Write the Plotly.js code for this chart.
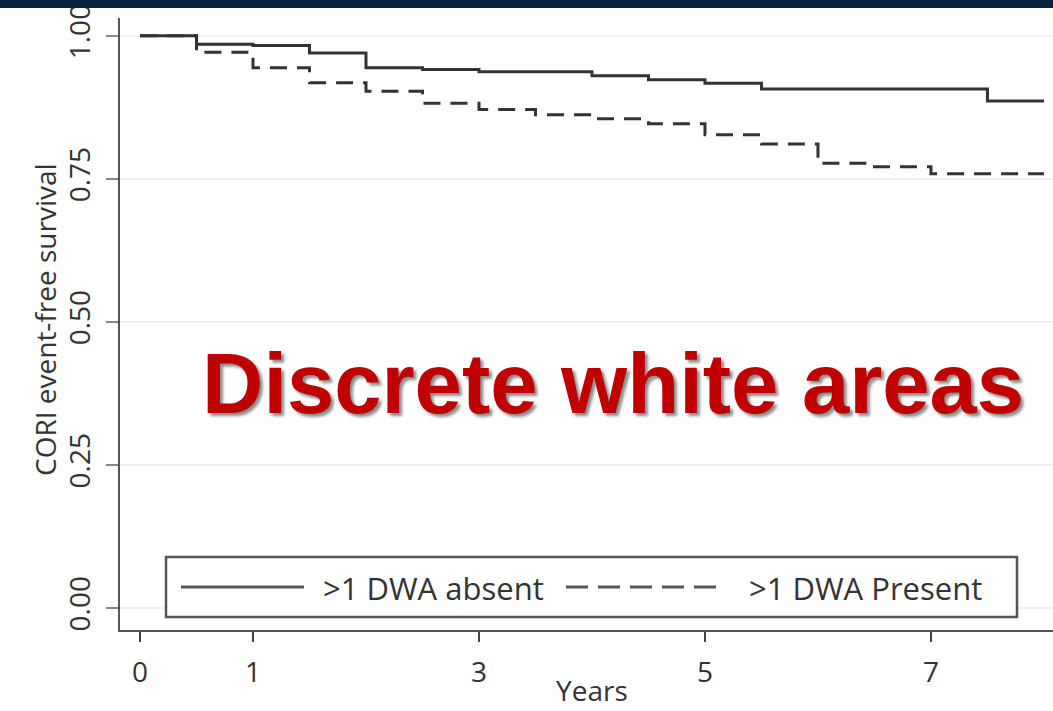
<!DOCTYPE html>
<html>
<head>
<meta charset="utf-8">
<script src="https://cdn.plot.ly/plotly-3.0.1.min.js"></script>
<style>
  html, body { margin: 0; padding: 0; background: #fff; }
  #chart { width: 1053px; height: 711px; }
  #topbar { position: absolute; left: 0; top: 0; width: 1053px; height: 8px; background: #062440; z-index: 10; }
</style>
</head>
<body>
<div id="topbar"></div>
<div id="chart"></div>
<script>
// Kaplan-Meier step data (years, survival)
const absentTimes   = [0, 0.5, 1.0, 1.5, 2.0, 2.5, 3.0, 4.0, 4.5, 5.0, 5.5, 7.5, 8.0];
const absentSurv    = [1.000, 0.985, 0.983, 0.970, 0.944, 0.941, 0.937, 0.930, 0.923, 0.917, 0.907, 0.886, 0.886];
const presentTimes  = [0, 0.5, 1.0, 1.5, 2.0, 2.5, 3.0, 3.5, 4.0, 4.5, 5.0, 5.5, 6.0, 6.5, 7.0, 8.0];
const presentSurv   = [1.000, 0.971, 0.944, 0.918, 0.903, 0.882, 0.871, 0.862, 0.855, 0.846, 0.827, 0.811, 0.777, 0.771, 0.759, 0.759];
const seriesNames   = ['>1 DWA absent', '>1 DWA Present'];
const xTickVals     = [0, 1, 3, 5, 7];
const yTickVals     = [0, 0.25, 0.5, 0.75, 1.0];
const yTickText     = ['0.00', '0.25', '0.50', '0.75', '1.00'];
const xTitle        = 'Years';
const yTitle        = 'CORI event-free survival';
const overlayText   = 'Discrete white areas';

const lineColor = '#333';
const traces = [
  { x: absentTimes, y: absentSurv, name: seriesNames[0], mode: 'lines',
    line: { shape: 'hv', color: lineColor, width: 3 } },
  { x: presentTimes, y: presentSurv, name: seriesNames[1], mode: 'lines',
    line: { shape: 'hv', color: lineColor, width: 3, dash: '17px,10px' } }
];

// Plot area: x 120..1053, y 18..630 (px)
const W = 933, H = 612;
const px = v => (v - 120) / W;
const py = v => (630 - v) / H;

const fam = '"Open Sans", Lato, sans-serif';
const tickFont = { family: fam, size: 28, color: '#333' };

const layout = {
  width: 1053, height: 711,
  margin: { l: 120, r: 0, t: 18, b: 81 },
  paper_bgcolor: '#fff', plot_bgcolor: '#fff',
  showlegend: false,
  xaxis: {
    range: [-0.177, 8.08],
    tickvals: xTickVals,
    ticks: 'outside', ticklen: 10, tickwidth: 2, tickcolor: '#444',
    ticklabelstandoff: 6,
    showline: true, linecolor: '#555', linewidth: 2,
    showgrid: false, zeroline: false,
    tickfont: tickFont
  },
  yaxis: {
    range: [-0.0385, 1.031],
    tickvals: yTickVals, ticktext: yTickText,
    tickangle: -90,
    ticks: 'outside', ticklen: 12, tickwidth: 2, tickcolor: '#888',
    ticklabelstandoff: 5,
    showline: true, linecolor: '#555', linewidth: 2,
    showgrid: true, gridcolor: '#f1f1f1', gridwidth: 2,
    zeroline: false,
    tickfont: tickFont
  },
  shapes: [
    // legend box
    { type: 'rect', xref: 'paper', yref: 'paper', x0: px(166), x1: px(1017), y0: py(617), y1: py(557),
      line: { color: '#555', width: 2.5 }, fillcolor: '#fff', layer: 'above' },
    // legend samples
    { type: 'line', xref: 'paper', yref: 'paper', x0: px(181), x1: px(304), y0: py(587), y1: py(587),
      line: { color: '#555', width: 3 }, layer: 'above' },
    { type: 'line', xref: 'paper', yref: 'paper', x0: px(566), x1: px(726), y0: py(587), y1: py(587),
      line: { color: '#555', width: 3, dash: '22px,10px' }, layer: 'above' }
  ],
  annotations: [
    { xref: 'paper', yref: 'paper', x: px(321), y: py(588), xanchor: 'left', yanchor: 'middle',
      text: seriesNames[0], showarrow: false,
      font: { family: fam, size: 31, color: '#333' } },
    { xref: 'paper', yref: 'paper', x: px(747), y: py(588), xanchor: 'left', yanchor: 'middle',
      text: seriesNames[1], showarrow: false,
      font: { family: fam, size: 31, color: '#333' } },
    { xref: 'paper', yref: 'paper', x: px(592), y: py(690), xanchor: 'center', yanchor: 'middle',
      text: xTitle, showarrow: false,
      font: { family: fam, size: 28, color: '#333' } },
    { xref: 'paper', yref: 'paper', x: px(45), y: py(320), xanchor: 'center', yanchor: 'middle',
      text: yTitle, showarrow: false, textangle: -90,
      font: { family: fam, size: 28, color: '#333' } },
    { xref: 'paper', yref: 'paper', x: px(613), y: py(383), xanchor: 'center', yanchor: 'middle',
      text: '<b>' + overlayText + '</b>', showarrow: false,
      font: { family: '"Liberation Sans", Arial, sans-serif', size: 85, color: '#c00000',
              shadow: '3px 3px 3px rgba(0,0,0,0.45)' } }
  ]
};

Plotly.newPlot('chart', traces, layout, { displayModeBar: false, staticPlot: true });
</script>
</body>
</html>
